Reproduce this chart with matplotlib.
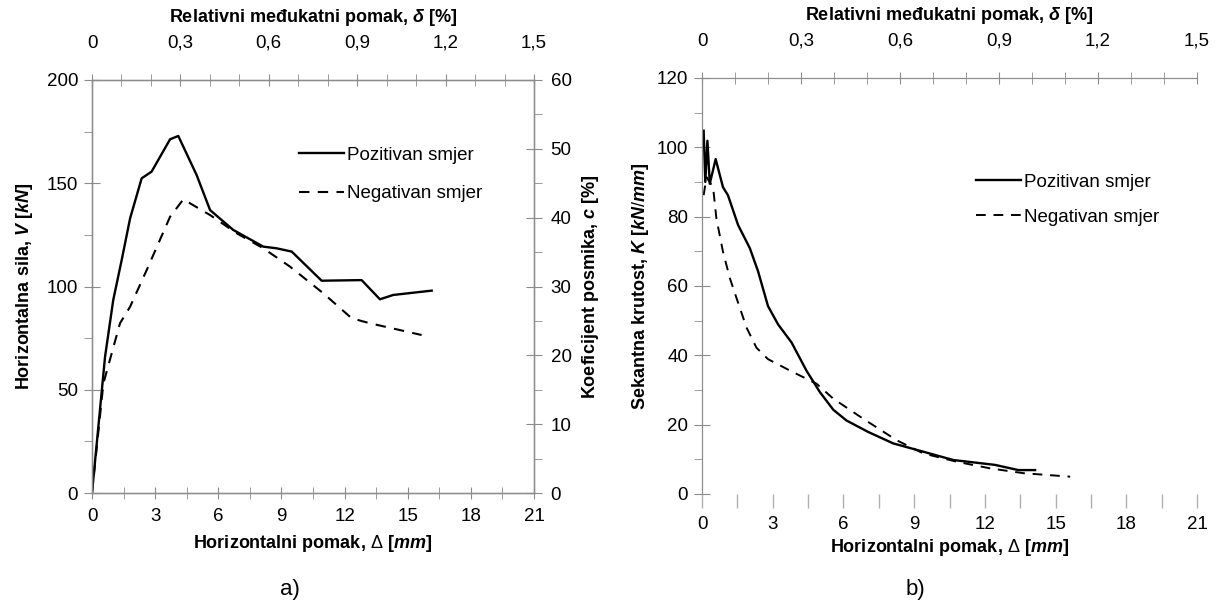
import matplotlib
matplotlib.use("Agg")
import matplotlib.pyplot as plt
from matplotlib.ticker import MultipleLocator, FuncFormatter
from matplotlib import font_manager

# ---------------- data ----------------
# a) force - displacement
disp_pos_a = [0, 0.62, 1.01, 1.41, 1.81, 2.36, 2.83, 3.71, 4.10, 4.97, 5.61, 6.71,
              8.14, 8.77, 9.49, 10.91, 12.81, 13.68, 14.31, 16.14]
force_pos = [0, 66, 93.5, 112.8, 133, 152.4, 155.6, 171.3, 172.9, 154, 137, 127.4,
             119.3, 118.5, 116.9, 102.8, 103.1, 93.8, 95.9, 98]
disp_neg_a = [0, 0.54, 1.33, 1.81, 2.60, 3.71, 4.34, 5.61, 6.87, 8.14, 9.41, 10.99,
              12.34, 13.20, 14.63, 15.66]
force_neg = [0, 53, 82.2, 90.2, 108, 133.8, 142.2, 134.6, 125.8, 118.5, 109.6, 96.7,
             84.6, 82.2, 78.9, 76.5]

# b) secant stiffness - displacement
disp_pos_b = [0.07, 0.14, 0.23, 0.33, 0.58, 0.89, 1.10, 1.53, 2.03, 2.38, 2.80, 3.23,
              3.80, 4.43, 5.00, 5.57, 6.13, 7.05, 8.11, 9.39, 10.66, 12.43, 13.42, 14.13]
stiff_pos = [104.8, 90, 101.9, 89.5, 96.6, 88.5, 86.2, 77.6, 70.9, 64.2, 54.2, 48.9,
             43.7, 35.6, 29.4, 24.3, 21.2, 17.9, 14.6, 12.2, 9.8, 8.4, 6.9, 6.9]
disp_neg_b = [0.07, 0.19, 0.47, 0.61, 0.89, 1.18, 1.46, 1.89, 2.31, 2.80, 3.73, 4.86,
              5.57, 6.84, 8.26, 9.39, 10.81, 12.22, 13.64, 15.62]
stiff_neg = [86.2, 91.4, 88.5, 79.5, 69.9, 62.3, 56.6, 48, 42.2, 38.9, 35.6, 31.8,
             27.5, 21.7, 15.5, 11.7, 9.3, 7.4, 6.0, 5.0]

legend_labels = ["Pozitivan smjer", "Negativan smjer"]
xlabel = r"Horizontalni pomak, $\mathit{Δ}$ [$\mathit{mm}$]"
toplabel = r"Relativni međukatni pomak, $\mathit{δ}$ [%]"
ylabel_a = r"Horizontalna sila, $\mathit{V}$ [$\mathit{kN}$]"
ylabel_a2 = r"Koeficijent posmika, $\mathit{c}$ [%]"
ylabel_b = r"Sekantna krutost, $\mathit{K}$ [$\mathit{kN/mm}$]"

# ---------------- fonts ----------------
names = {f.name for f in font_manager.fontManager.ttflist}
base = "Liberation Sans Narrow" if "Liberation Sans Narrow" in names else "Liberation Sans"
plt.rcParams["font.family"] = [base, "DejaVu Sans"]
plt.rcParams["mathtext.fontset"] = "custom"
plt.rcParams["mathtext.rm"] = base
plt.rcParams["mathtext.it"] = base + ":italic:bold"
plt.rcParams["mathtext.bf"] = base + ":bold"

GRAY = "#8c8c8c"
TICK_FS = 13.5
LAB_FS = 13

def comma(v, pos):
    s = ("%.1f" % v).replace(".", ",")
    if s.endswith(",0"):
        s = s[:-2]
    return s

fig = plt.figure(figsize=(12.19, 6.10), dpi=100)

# ---------------- panel a ----------------
ax = fig.add_axes([92/1219, 1-493/610, 442/1219, 413/610])
ax.plot(disp_pos_a, force_pos, color="black", lw=1.7, label=legend_labels[0])
ax.plot(disp_neg_a, force_neg, color="black", lw=1.5, ls=(0, (5, 4)), label=legend_labels[1])
ax.set_xlim(0, 21)
ax.set_ylim(0, 200)
ax.xaxis.set_major_locator(MultipleLocator(3))
ax.xaxis.set_minor_locator(MultipleLocator(1.5))
ax.yaxis.set_major_locator(MultipleLocator(50))
ax.yaxis.set_minor_locator(MultipleLocator(25))
for sp in ax.spines.values():
    sp.set_color(GRAY)
    sp.set_linewidth(1)
ax.tick_params(which="both", direction="inout", color=GRAY, labelsize=TICK_FS)
ax.tick_params(axis="x", which="both", length=9, pad=6)
ax.tick_params(axis="y", which="major", length=12, pad=4)
ax.tick_params(axis="y", which="minor", direction="out", length=6)
ax.set_xlabel(xlabel, fontsize=LAB_FS, fontweight="bold", labelpad=6)
ax.set_ylabel(ylabel_a, fontsize=LAB_FS, fontweight="bold", labelpad=8)

ax2 = ax.twinx()
ax2.set_ylim(0, 60)
ax2.yaxis.set_major_locator(MultipleLocator(10))
ax2.yaxis.set_minor_locator(MultipleLocator(5))
ax2.tick_params(which="both", direction="inout", color=GRAY, labelsize=TICK_FS)
ax2.tick_params(which="major", length=12, pad=6)
ax2.tick_params(which="minor", direction="out", length=6)
for sp in ax2.spines.values():
    sp.set_color(GRAY)
ax2.set_ylabel(ylabel_a2, fontsize=LAB_FS, fontweight="bold", labelpad=6)

ax3 = ax.twiny()
ax3.set_xlim(0, 1.5)
ax3.xaxis.set_major_locator(MultipleLocator(0.3))
ax3.xaxis.set_minor_locator(MultipleLocator(0.1))
ax3.xaxis.set_major_formatter(FuncFormatter(comma))
ax3.tick_params(which="both", direction="inout", color=GRAY, labelsize=TICK_FS, length=9, pad=16)
for sp in ax3.spines.values():
    sp.set_color(GRAY)
ax3.set_xlabel(toplabel, fontsize=LAB_FS, fontweight="bold", labelpad=9)

ax.legend(loc="upper left", bbox_to_anchor=(0.43, 0.88), frameon=False,
          fontsize=TICK_FS, handlelength=2.4, handletextpad=0.15, labelspacing=1.15)

# ---------------- panel b ----------------
bx = fig.add_axes([702/1219, 1-494/610, 495/1219, 416/610])
bx.plot(disp_pos_b, stiff_pos, color="black", lw=1.7, label=legend_labels[0])
bx.plot(disp_neg_b, stiff_neg, color="black", lw=1.4, ls=(0, (5, 4)), label=legend_labels[1])
bx.set_xlim(0, 21)
bx.set_ylim(0, 120)
bx.xaxis.set_major_locator(MultipleLocator(3))
bx.xaxis.set_minor_locator(MultipleLocator(1.5))
bx.yaxis.set_major_locator(MultipleLocator(20))
bx.yaxis.set_minor_locator(MultipleLocator(10))
bx.spines["bottom"].set_visible(False)
bx.spines["right"].set_visible(False)
for sp in bx.spines.values():
    sp.set_color(GRAY)
bx.tick_params(axis="x", which="both", direction="out", color="#b0b0b0", length=10,
               width=1, labelsize=TICK_FS, pad=6)
bx.tick_params(axis="y", which="major", direction="inout", color=GRAY, length=12,
               labelsize=TICK_FS, pad=4)
bx.tick_params(axis="y", which="minor", direction="out", color=GRAY, length=6)
bx.set_xlabel(xlabel, fontsize=LAB_FS, fontweight="bold", labelpad=3)
bx.set_ylabel(ylabel_b, fontsize=LAB_FS, fontweight="bold", labelpad=4)

bx3 = bx.twiny()
bx3.set_xlim(0, 1.5)
bx3.xaxis.set_major_locator(MultipleLocator(0.3))
bx3.xaxis.set_minor_locator(MultipleLocator(0.1))
bx3.xaxis.set_major_formatter(FuncFormatter(comma))
bx3.tick_params(which="both", direction="inout", color=GRAY, labelsize=TICK_FS, length=9, pad=16)
bx3.spines["bottom"].set_visible(False)
bx3.spines["right"].set_visible(False)
for sp in bx3.spines.values():
    sp.set_color(GRAY)
bx3.set_xlabel(toplabel, fontsize=LAB_FS, fontweight="bold", labelpad=9)

bx.legend(loc="upper left", bbox_to_anchor=(0.52, 0.81), frameon=False,
          fontsize=TICK_FS, handlelength=2.4, handletextpad=0.15, labelspacing=0.95)

fig.text(290/1219, 1-590/610, "a)", fontsize=16, ha="center", va="center")
fig.text(915/1219, 1-590/610, "b)", fontsize=16, ha="center", va="center")

fig.savefig("out.png", dpi=100)
